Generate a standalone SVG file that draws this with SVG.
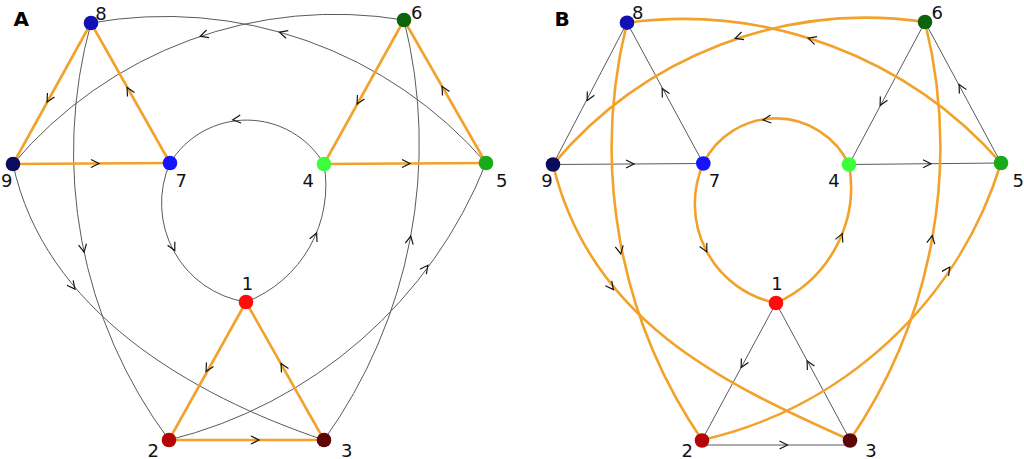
<svg xmlns="http://www.w3.org/2000/svg" xmlns:xlink="http://www.w3.org/1999/xlink" width="1024" height="459" viewBox="0 0 1024 459">
<defs>
<style>
.g{fill:none;stroke:#5a5a5a;stroke-width:1}
.o{fill:none;stroke:#f2a22a;stroke-width:2.6}
.ar{fill:none;stroke:#151515;stroke-width:1.2}
.lbl{font-family:"DejaVu Sans",Verdana,sans-serif;font-size:18px;fill:#111;text-anchor:middle}
.pl{font-family:"DejaVu Sans",Verdana,sans-serif;font-weight:bold;font-size:20px;fill:#000;text-anchor:middle}
</style>
<path id="ch" d="M-4,-4 L4,0 L-4,4"/>
</defs>
<rect width="1024" height="459" fill="#fff"/>

<g id="edges-A">
<path class="g" d="M486,163 A424,424 0 0 0 91,23"/>
<path class="g" d="M404,20 A421,421 0 0 0 13,164"/>
<path class="g" d="M324,164 A90,90 0 0 0 170,163"/>
<path class="g" d="M170,163 A100,100 0 0 0 246,302"/>
<path class="g" d="M246,302 A125,125 0 0 0 324,164"/>
<path class="g" d="M91,23 A483,483 0 0 0 169,440"/>
<path class="g" d="M13,164 C44,310 190,395 324,440"/>
<path class="g" d="M324,440 A509,509 0 0 0 404,20"/>
<path class="g" d="M169,440 A460,460 0 0 0 486,163"/>
<path class="o" d="M91,23 L13,164"/>
<path class="o" d="M170,163 L91,23"/>
<path class="o" d="M13,164 L170,163"/>
<path class="o" d="M404,20 L324,164"/>
<path class="o" d="M324,164 L486,163"/>
<path class="o" d="M486,163 L404,20"/>
<path class="o" d="M246,302 L169,440"/>
<path class="o" d="M169,440 L324,440"/>
<path class="o" d="M324,440 L246,302"/>
<use xlink:href="#ch" class="ar" transform="translate(283.3,33.3) rotate(-163.9)"/>
<use xlink:href="#ch" class="ar" transform="translate(204,35) rotate(161.9)"/>
<use xlink:href="#ch" class="ar" transform="translate(236.7,119.5) rotate(173.7)"/>
<use xlink:href="#ch" class="ar" transform="translate(173,247) rotate(63.7)"/>
<use xlink:href="#ch" class="ar" transform="translate(315,236.7) rotate(-65.8)"/>
<use xlink:href="#ch" class="ar" transform="translate(83.3,248.3) rotate(78.5)"/>
<use xlink:href="#ch" class="ar" transform="translate(72.5,286) rotate(52)"/>
<use xlink:href="#ch" class="ar" transform="translate(410,240) rotate(-79.1)"/>
<use xlink:href="#ch" class="ar" transform="translate(425.5,268.5) rotate(-53.2)"/>
<use xlink:href="#ch" class="ar" transform="translate(49,98.5) rotate(119)"/>
<use xlink:href="#ch" class="ar" transform="translate(129,91) rotate(-119.4)"/>
<use xlink:href="#ch" class="ar" transform="translate(95,163.5) rotate(0)"/>
<use xlink:href="#ch" class="ar" transform="translate(359,100.5) rotate(119)"/>
<use xlink:href="#ch" class="ar" transform="translate(406,163.5) rotate(0)"/>
<use xlink:href="#ch" class="ar" transform="translate(444,90) rotate(-119.8)"/>
<use xlink:href="#ch" class="ar" transform="translate(208,368) rotate(119.2)"/>
<use xlink:href="#ch" class="ar" transform="translate(255,440) rotate(0)"/>
<use xlink:href="#ch" class="ar" transform="translate(283,367) rotate(-119.5)"/>
</g>

<g id="edges-B">
<path class="g" d="M627,22.7 L553,164.5"/>
<path class="g" d="M703.3,163.5 L627,22.7"/>
<path class="g" d="M553,164.5 L703.3,163.5"/>
<path class="g" d="M925,22 L849,164.5"/>
<path class="g" d="M849,164.5 L1001,163"/>
<path class="g" d="M1001,163 L925,22"/>
<path class="g" d="M776,303 L702,440"/>
<path class="g" d="M702,445 L850,445"/>
<path class="g" d="M850,440 L776,303"/>
<path class="o" d="M1001,163 A424,424 0 0 0 627,22.7"/>
<path class="o" d="M925,22 A408,408 0 0 0 553,164.5"/>
<path class="o" d="M849,164.5 A81,81 0 0 0 703.3,163.5"/>
<path class="o" d="M703.3,163.5 A101,101 0 0 0 776,303"/>
<path class="o" d="M776,303 A127,127 0 0 0 849,164.5"/>
<path class="o" d="M627,22.7 A518,518 0 0 0 702,440"/>
<path class="o" d="M553,164.5 C590,320 722,383 850,440"/>
<path class="o" d="M850,440 A520,520 0 0 0 925,22"/>
<path class="o" d="M702,440 A407,407 0 0 0 1001,163"/>
<use xlink:href="#ch" class="ar" transform="translate(812,39.3) rotate(-162.2)"/>
<use xlink:href="#ch" class="ar" transform="translate(739,37) rotate(161.9)"/>
<use xlink:href="#ch" class="ar" transform="translate(767,119.5) rotate(173.7)"/>
<use xlink:href="#ch" class="ar" transform="translate(705,248.3) rotate(64)"/>
<use xlink:href="#ch" class="ar" transform="translate(840.7,237.3) rotate(-66.7)"/>
<use xlink:href="#ch" class="ar" transform="translate(620,250) rotate(78.6)"/>
<use xlink:href="#ch" class="ar" transform="translate(611,286.5) rotate(52)"/>
<use xlink:href="#ch" class="ar" transform="translate(931.5,239.5) rotate(-79.8)"/>
<use xlink:href="#ch" class="ar" transform="translate(947.5,270.3) rotate(-55.9)"/>
<use xlink:href="#ch" class="ar" transform="translate(589,97) rotate(117.6)"/>
<use xlink:href="#ch" class="ar" transform="translate(664,92) rotate(-118.4)"/>
<use xlink:href="#ch" class="ar" transform="translate(630,164) rotate(-0.4)"/>
<use xlink:href="#ch" class="ar" transform="translate(882,102) rotate(118.1)"/>
<use xlink:href="#ch" class="ar" transform="translate(927,163.7) rotate(-0.5)"/>
<use xlink:href="#ch" class="ar" transform="translate(961,88) rotate(-118.3)"/>
<use xlink:href="#ch" class="ar" transform="translate(743,364) rotate(118.4)"/>
<use xlink:href="#ch" class="ar" transform="translate(783.5,445) rotate(0)"/>
<use xlink:href="#ch" class="ar" transform="translate(809,364.5) rotate(-118.4)"/>
</g>

<g id="nodes-A">
<g id="A-n1"><circle cx="246" cy="302" r="7.3" fill="#ff0d0d"/><text class="lbl" x="247.5" y="289.7">1</text></g>
<g id="A-n2"><circle cx="169" cy="440" r="7.3" fill="#b30505"/><text class="lbl" x="153.3" y="456.5">2</text></g>
<g id="A-n3"><circle cx="324" cy="440" r="7.3" fill="#5e0505"/><text class="lbl" x="346.7" y="457">3</text></g>
<g id="A-n4"><circle cx="324" cy="164" r="7.3" fill="#3cff3c"/><text class="lbl" x="308.3" y="187.3">4</text></g>
<g id="A-n5"><circle cx="486" cy="163" r="7.3" fill="#19aa19"/><text class="lbl" x="501.7" y="187.3">5</text></g>
<g id="A-n6"><circle cx="404" cy="20" r="7.3" fill="#0b640b"/><text class="lbl" x="416.7" y="18.5">6</text></g>
<g id="A-n7"><circle cx="170" cy="163" r="7.3" fill="#1414ff"/><text class="lbl" x="181.3" y="187.3">7</text></g>
<g id="A-n8"><circle cx="91" cy="23" r="7.3" fill="#1010b4"/><text class="lbl" x="101" y="19.5">8</text></g>
<g id="A-n9"><circle cx="13" cy="164" r="7.3" fill="#0c0c5c"/><text class="lbl" x="6.7" y="187.3">9</text></g>
<text class="pl" x="21.3" y="26">A</text>
</g>

<g id="nodes-B">
<g id="B-n1"><circle cx="776" cy="303" r="7.3" fill="#ff0d0d"/><text class="lbl" x="777" y="289.7">1</text></g>
<g id="B-n2"><circle cx="702" cy="440.5" r="7.3" fill="#b30505"/><text class="lbl" x="687.3" y="457">2</text></g>
<g id="B-n3"><circle cx="850" cy="440.5" r="7.3" fill="#5e0505"/><text class="lbl" x="871" y="457">3</text></g>
<g id="B-n4"><circle cx="849" cy="164.5" r="7.3" fill="#3cff3c"/><text class="lbl" x="834" y="187.3">4</text></g>
<g id="B-n5"><circle cx="1001" cy="163" r="7.3" fill="#19aa19"/><text class="lbl" x="1018.3" y="187.3">5</text></g>
<g id="B-n6"><circle cx="925" cy="22" r="7.3" fill="#0b640b"/><text class="lbl" x="937.3" y="18.5">6</text></g>
<g id="B-n7"><circle cx="703.3" cy="163.5" r="7.3" fill="#1414ff"/><text class="lbl" x="714.5" y="187.3">7</text></g>
<g id="B-n8"><circle cx="627" cy="22.7" r="7.3" fill="#1010b4"/><text class="lbl" x="637.7" y="18.5">8</text></g>
<g id="B-n9"><circle cx="553" cy="164.5" r="7.3" fill="#0c0c5c"/><text class="lbl" x="547" y="187.3">9</text></g>
<text class="pl" x="562" y="26">B</text>
</g>
</svg>
